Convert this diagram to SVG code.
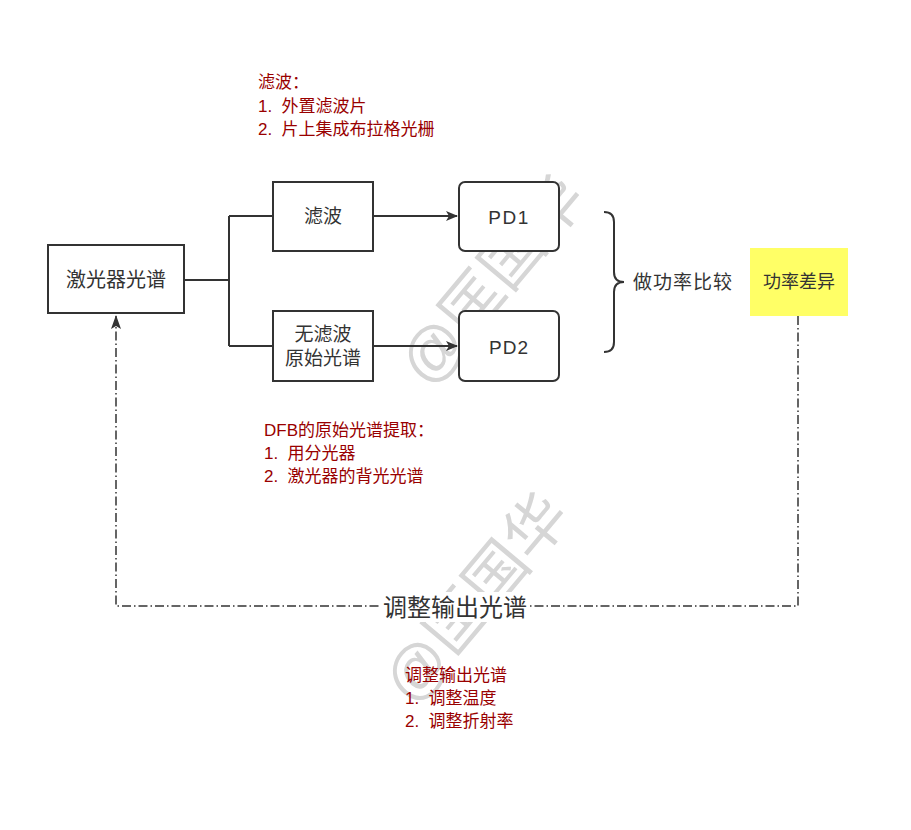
<svg xmlns="http://www.w3.org/2000/svg" width="911" height="830" viewBox="0 0 911 830">
<defs>
<style>
text{font-family:"Liberation Sans","Noto Sans CJK SC",sans-serif;}
.box{fill:#fff;stroke:#333;stroke-width:2;}
.lbl{font-size:19px;fill:#333;text-anchor:middle;dominant-baseline:central;}
.note{font-size:17px;fill:#990000;white-space:pre;}
.wm{font-size:62px;fill:#d6d6d6;text-anchor:middle;dominant-baseline:central;}
.ln{fill:none;stroke:#333;stroke-width:2;}
.dd{fill:none;stroke:#333;stroke-width:1.5;stroke-dasharray:9 3 1.5 3;}
</style>
<marker id="arr" viewBox="0 0 12 10" refX="11" refY="5" markerWidth="12" markerHeight="10" markerUnits="userSpaceOnUse" orient="auto">
<path d="M0,0 L12,5 L0,10 L3,5 Z" fill="#333"/>
</marker>
<marker id="arr2" viewBox="0 0 14 10" refX="13" refY="5" markerWidth="14" markerHeight="11" markerUnits="userSpaceOnUse" orient="auto">
<path d="M0,0 L14,5 L0,10 L3,5 Z" fill="#333"/>
</marker>
</defs>
<rect width="911" height="830" fill="#fff"/>
<g id="watermarks">
<text class="wm" transform="translate(492,280) rotate(-50)">@匡国华</text>
<text class="wm" transform="translate(476,598) rotate(-50)">@匡国华</text>
</g>
<g id="connectors">
<path class="ln" d="M184,280 H229 M229,216 V346 M229,216 H273 M229,346 H273"/>
<path class="ln" d="M373,216 H457" marker-end="url(#arr)"/>
<path class="ln" d="M373,346 H457" marker-end="url(#arr)"/>
<path class="ln" d="M604,212 Q614,212 614,222 V272 Q614,282 624,282 Q614,282 614,292 V342 Q614,352 604,352"/>
<path class="dd" d="M798,316 V606 H116 V316" marker-end="url(#arr2)"/>
<rect x="381" y="592" width="148" height="30" fill="#fff"/>
<text x="455" y="607" style="font-size:24px;fill:#333;text-anchor:middle;dominant-baseline:central;">调整输出光谱</text>
</g>
<g id="laser"><rect class="box" x="48" y="245" width="136" height="68"/><text class="lbl" x="116" y="280" style="font-size:20px">激光器光谱</text></g>
<g id="filter"><rect class="box" x="273" y="182" width="100" height="69"/><text class="lbl" x="323" y="216">滤波</text></g>
<g id="nofilter"><rect class="box" x="273" y="311" width="100" height="70"/><text class="lbl" x="323" y="334">无滤波</text><text class="lbl" x="323" y="358">原始光谱</text></g>
<g id="pd1"><rect class="box" x="459" y="182" width="100" height="69" rx="6"/><text class="lbl" x="509" y="217" style="letter-spacing:1.5px">PD1</text></g>
<g id="pd2"><rect class="box" x="459" y="311" width="100" height="70" rx="6"/><text class="lbl" x="509" y="347" style="letter-spacing:1px">PD2</text></g>
<g id="compare"><text x="633" y="282" textLength="99" style="font-size:19px;fill:#333;dominant-baseline:central;">做功率比较</text></g>
<g id="diff"><rect x="750" y="248" width="98" height="68" fill="#ffff66"/><text x="799" y="282" style="font-size:18px;fill:#333;text-anchor:middle;dominant-baseline:central;">功率差异</text></g>
<g id="note1">
<text class="note" x="258" y="88">滤波：</text>
<text class="note" x="258" y="112" xml:space="preserve">1.  外置滤波片</text>
<text class="note" x="258" y="135" xml:space="preserve">2.  片上集成布拉格光栅</text>
</g>
<g id="note2">
<text class="note" x="264" y="436">DFB的原始光谱提取：</text>
<text class="note" x="264" y="459" xml:space="preserve">1.  用分光器</text>
<text class="note" x="264" y="482" xml:space="preserve">2.  激光器的背光光谱</text>
</g>
<g id="note3">
<text class="note" x="405" y="681">调整输出光谱</text>
<text class="note" x="405" y="704" xml:space="preserve">1.  调整温度</text>
<text class="note" x="405" y="727" xml:space="preserve">2.  调整折射率</text>
</g>
</svg>
